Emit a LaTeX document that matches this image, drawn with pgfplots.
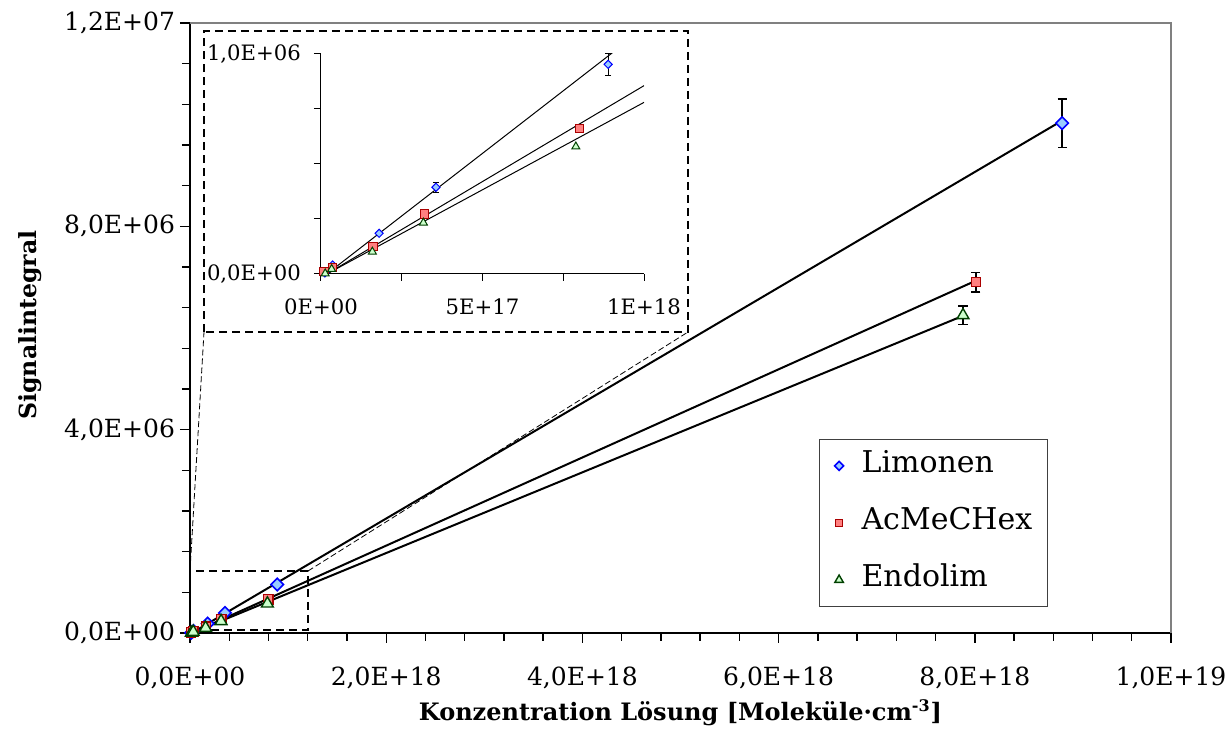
\documentclass[border=0pt]{standalone}
\usepackage{fontspec}
\setmainfont{DejaVu Serif}
\usepackage{pgfplots}
\usepackage{pgfplotstable}
\pgfplotsset{compat=1.18}

\definecolor{limD}{RGB}{0,0,255}
\definecolor{limF}{RGB}{153,204,255}
\definecolor{acD}{RGB}{170,0,0}
\definecolor{acF}{RGB}{255,128,128}
\definecolor{enD}{RGB}{0,64,0}
\definecolor{enF}{RGB}{204,255,204}

\pgfplotstableread{
x y e
1.2e16 5e3 0
3.6e16 4.1e4 0
1.8e17 1.85e5 0
3.56e17 3.94e5 2.3e4
8.89e17 9.53e5 5e4
8.89e18 1.003e7 4.8e5
}\limonen
\pgfplotstableread{
x y e
9e15 1.2e4 0
3.5e16 3.0e4 0
1.61e17 1.24e5 0
3.2e17 2.73e5 0
8.0e17 6.62e5 0
8.01e18 6.90e6 1.9e5
}\acme
\pgfplotstableread{
x y e
1.3e16 2e3 0
3.3e16 2.2e4 0
1.59e17 1.01e5 0
3.17e17 2.33e5 0
7.89e17 5.79e5 0
7.88e18 6.25e6 1.8e5
}\endolim
% error bars (non-zero only)
\pgfplotstableread{
x y e
8.89e18 1.003e7 4.8e5
8.01e18 6.90e6 1.9e5
7.88e18 6.25e6 1.8e5
}\mainerr
\pgfplotstableread{
x y e
3.56e17 3.94e5 2.3e4
8.89e17 9.53e5 5e4
}\inseterr

\pgfplotsset{
  limstyle/.style 2 args={only marks, mark=square*, mark size=#1, mark options={rotate=45, draw=limD, fill=limF, line width=#2}},
  acstyle/.style 2 args={only marks, mark=square*, mark size=#1, mark options={draw=acD, fill=acF, line width=#2}},
  enstyle/.style 2 args={only marks, mark=triangle*, mark size=#1, mark options={draw=enD, fill=enF, line width=#2}},
}

\begin{document}
\begin{tikzpicture}
\begin{axis}[
  at={(0pt,0pt)}, anchor=south west,
  scale only axis, width=490.5pt, height=305pt,
  xmin=0, xmax=1e19, ymin=0, ymax=1.2e7,
  axis x line*=bottom, axis y line*=left,
  axis line style={black, line width=0.9pt},
  xtick={0,2e18,4e18,6e18,8e18,1e19},
  xticklabels={{0,0E+00},{2,0E+18},{4,0E+18},{6,0E+18},{8,0E+18},{1,0E+19}},
  minor x tick num=4,
  ytick={0,4e6,8e6,1.2e7},
  yticklabels={{0,0E+00},{4,0E+06},{8,0E+06},{1,2E+07}},
  minor y tick num=4,
  tick align=outside,
  major tick length=5pt, minor tick length=4pt,
  tick style={black, line width=0.7pt},
  scaled ticks=false,
  ticklabel style={font=\fontsize{12.5}{15}\selectfont},
  xticklabel style={yshift=-8.5pt},
  yticklabel style={xshift=1pt},
  clip=false,
  xlabel={\textbf{Konzentration Lösung [Moleküle·cm\textsuperscript{-3}]}},
  ylabel={\textbf{Signalintegral}},
  xlabel style={font=\fontsize{12}{14}\selectfont, at={(axis description cs:0.5,-0.131)}, anchor=center},
  ylabel style={font=\fontsize{11.8}{14}\selectfont, at={(axis description cs:-0.163,0.505)}, anchor=center},
  legend style={at={(axis description cs:0.6412,0.0426)}, anchor=south west,
    draw=black!75, line width=0.6pt,
    font=\fontsize{15}{17}\selectfont,
    row sep=14pt, column sep=9pt,
    inner xsep=7.5pt, inner ysep=6pt,
    nodes={inner sep=0pt, text height=10.5pt, text depth=4pt}},
  legend cell align=left,
  legend image code/.code={\draw[#1, /tikz/every mark/.append style={scale=0.72}] plot coordinates {(0pt,0pt)};},
]
% frame (top and right, gray)
\draw[gray, line width=0.7pt] (rel axis cs:0,1) -- (rel axis cs:1,1) -- (rel axis cs:1,0);
\addplot[forget plot, draw=none, mark=none,
  error bars/.cd, y dir=both, y explicit,
  error bar style={draw=black, line width=0.8pt},
  error mark options={rotate=90, draw=black, mark size=2.3pt, line width=0.8pt}]
  table[x=x,y=y,y error=e] {\mainerr};
\addplot[limstyle={2.2pt}{0.8pt}] table[x=x,y=y] {\limonen};
\addlegendentry{Limonen}
\addplot[acstyle={2.3pt}{0.6pt}] table[x=x,y=y] {\acme};
\addlegendentry{AcMeCHex}
\addplot[enstyle={3.4pt}{0.7pt}] table[x=x,y=y] {\endolim};
\addlegendentry{Endolim}
% trend lines
\addplot[forget plot, black, line width=1pt] coordinates {(1.8e16,0) (8.89e18,1.008e7)};
\addplot[forget plot, black, line width=1pt] coordinates {(1.8e16,0) (8.01e18,6.93e6)};
\addplot[forget plot, black, line width=1pt] coordinates {(1.8e16,0) (7.88e18,6.24e6)};
% zoom box and inset frame
\draw[black, line width=0.9pt, dash pattern=on 4pt off 2.5pt] (axis cs:0,0.06e6) rectangle (axis cs:1.203e18,1.22e6);
\draw[black, line width=0.9pt, dash pattern=on 4pt off 2.5pt] (axis cs:1.427e17,5.921e6) rectangle (axis cs:5.0765e18,1.1843e7);
\draw[black, line width=0.4pt, dash pattern=on 3pt off 1.5pt] (axis cs:0,1.22e6) -- (axis cs:1.427e17,5.921e6);
\draw[black, line width=0.4pt, dash pattern=on 3pt off 1.5pt] (axis cs:1.203e18,1.22e6) -- (axis cs:5.0765e18,5.921e6);
\end{axis}

\begin{axis}[
  at={(65.5pt,179.5pt)}, anchor=south west,
  scale only axis, width=161.5pt, height=110pt,
  xmin=0, xmax=1e18, ymin=0, ymax=1e6,
  axis x line*=bottom, axis y line*=left,
  axis line style={black, line width=0.5pt},
  xtick={0,5e17,1e18}, xticklabels={0E+00,5E+17,1E+18},
  minor xtick={2.5e17,7.5e17},
  ytick={0,1e6}, yticklabels={{0,0E+00},{1,0E+06}},
  minor ytick={2.5e5,5e5,7.5e5},
  tick align=outside,
  major tick length=3.5pt, minor tick length=3.5pt,
  tick style={black, line width=0.5pt},
  scaled ticks=false,
  ticklabel style={font=\fontsize{10.6}{13}\selectfont},
  xticklabel style={yshift=-5.5pt},
  yticklabel style={xshift=-3pt},
]
\addplot[draw=none, mark=none,
  error bars/.cd, y dir=both, y explicit,
  error bar style={draw=black, line width=0.5pt},
  error mark options={rotate=90, draw=black, mark size=1.5pt, line width=0.5pt}]
  table[x=x,y=y,y error=e] {\inseterr};
\addplot[limstyle={1.45pt}{0.5pt}] table[x=x,y=y] {\limonen};
\addplot[acstyle={2.1pt}{0.5pt}] table[x=x,y=y] {\acme};
\addplot[enstyle={2.3pt}{0.5pt}] table[x=x,y=y] {\endolim};
\addplot[black, line width=0.5pt] coordinates {(1.8e16,0) (1e18,1.117e6)};
\addplot[black, line width=0.5pt] coordinates {(1.8e16,0) (1e18,0.856e6)};
\addplot[black, line width=0.5pt] coordinates {(1.8e16,0) (1e18,0.780e6)};
\end{axis}
\pgfresetboundingbox
\path (-95pt,-49pt) rectangle (520.5pt,316.5pt);
\end{tikzpicture}
\end{document}
